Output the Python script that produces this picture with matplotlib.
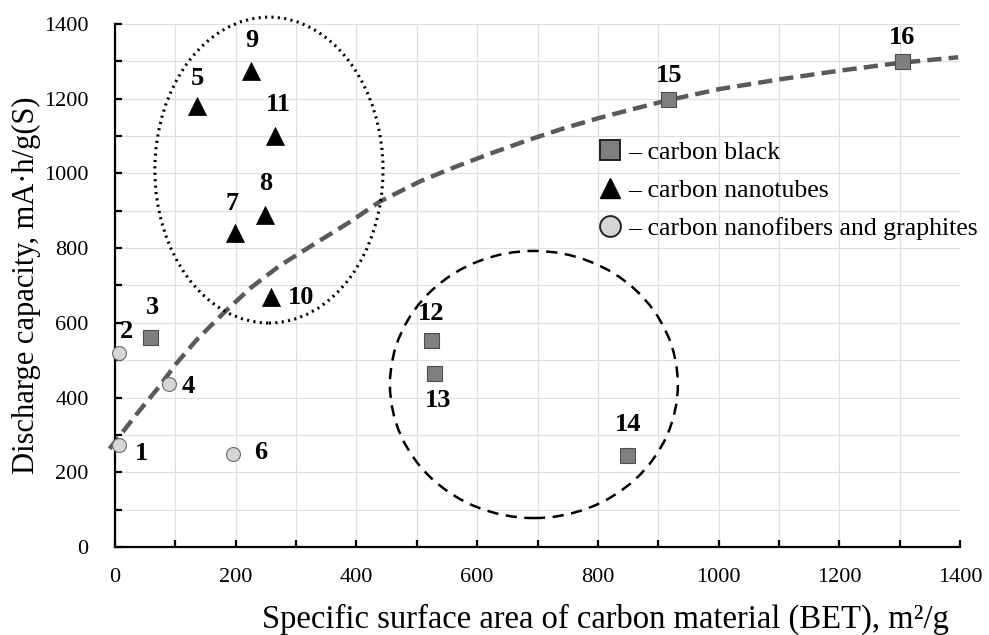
import matplotlib

matplotlib.use("Agg")
import matplotlib.pyplot as plt
from matplotlib.lines import Line2D
from matplotlib.patches import Ellipse

plt.rcParams["font.family"] = ["Liberation Serif", "DejaVu Serif"]

# BET surface area (m2/g) and discharge capacity (mA h / g S) per sample
black_id = [3, 12, 13, 14, 15, 16]
black_x = [58, 523, 529, 848, 916, 1304]
black_y = [563, 553, 466, 246, 1199, 1301]

tube_id = [5, 7, 8, 9, 10, 11]
tube_x = [136, 199, 249, 225, 259, 265]
tube_y = [1180, 841, 890, 1274, 668, 1101]

fiber_id = [1, 2, 4, 6]
fiber_x = [6, 7, 89, 196]
fiber_y = [273, 519, 437, 250]

trend_x = [-9, 36, 72, 101, 136, 181, 225, 272, 331, 389, 439, 507, 566, 625,
           684, 742, 801, 860, 916, 1002, 1102, 1200, 1300, 1397]
trend_y = [263, 356, 427, 490, 556, 628, 694, 752, 812, 870, 925, 980, 1019, 1055,
           1089, 1120, 1148, 1173, 1196, 1226, 1252, 1275, 1296, 1311]

# label offsets in pixels from each marker (dx, dy)
label_off = {
    1: (23, -8), 2: (7, 22), 3: (2, 29), 4: (20, -3), 5: (0, 28), 6: (27, 1),
    7: (-3, 29), 8: (0, 31), 9: (1, 31), 10: (30, 0), 11: (3, 31), 12: (0, 27),
    13: (4, -28), 14: (1, 31), 15: (1, 24), 16: (0, 23),
}

BLACK_FC, BLACK_EC = "#7f7f7f", "#4d4d4d"
FIBER_FC, FIBER_EC = "#d6d6d6", "#6b6b6b"

fig = plt.figure(figsize=(9.89, 6.35), dpi=100)
ax = fig.add_axes([0.1163, 0.1386, 0.8544, 0.8236])

ax.set_xlim(0, 1400)
ax.set_ylim(0, 1400)
ax.set_xticks(range(0, 1401, 200))
ax.set_yticks(range(0, 1401, 200))
ax.set_xticks(range(0, 1401, 100), minor=True)
ax.set_yticks(range(0, 1401, 100), minor=True)
ax.grid(True, which="both", color="#e0e0e0", lw=0.9, zorder=0)
ax.set_axisbelow(True)
for side in ("top", "right"):
    ax.spines[side].set_visible(False)
for side in ("left", "bottom"):
    ax.spines[side].set_linewidth(1.6)
ax.tick_params(which="both", direction="in", length=5, width=1.6, labelsize=16)
ax.tick_params(axis="x", which="major", pad=15)
ax.tick_params(axis="y", which="major", pad=19)

ax.plot(trend_x, trend_y, ls=(0, (3.2, 1.6)), lw=3.2, color="#5a5a5a", zorder=2,
        clip_on=False, dash_capstyle="butt", dash_joinstyle="round")

ax.add_patch(Ellipse((255, 1009), 378, 819, fill=False, ls=(0, (0.7, 1.4)), lw=2.2,
                     ec="black", clip_on=False, zorder=3))
ax.add_patch(Ellipse((694, 435), 477, 715, fill=False, ls=(0, (4.5, 3)), lw=1.8,
                     ec="black", clip_on=False, zorder=3))

ax.scatter(black_x, black_y, marker="s", s=10.8 ** 2, fc=BLACK_FC, ec=BLACK_EC, lw=0.8, zorder=4)
ax.scatter(tube_x, tube_y, marker="^", s=13 ** 2, fc="black", ec="black", lw=0.5, zorder=4)
ax.scatter(fiber_x, fiber_y, marker="o", s=10 ** 2, fc=FIBER_FC, ec=FIBER_EC, lw=0.8, zorder=4,
           clip_on=False)

for ids, xs, ys in ((black_id, black_x, black_y), (tube_id, tube_x, tube_y), (fiber_id, fiber_x, fiber_y)):
    for i, x, y in zip(ids, xs, ys):
        ax.annotate(str(i), (x, y), xytext=label_off[i], textcoords="offset pixels",
                    ha="center", va="center", fontsize=19, fontweight="bold", zorder=5)

handles = [
    Line2D([], [], ls="none", marker="s", ms=14, mfc=BLACK_FC, mec="#222222", mew=1.4),
    Line2D([], [], ls="none", marker="^", ms=15, mfc="black", mec="black"),
    Line2D([], [], ls="none", marker="o", ms=15, mfc=FIBER_FC, mec="#222222", mew=1.4),
]
labels = ["– carbon black", "– carbon nanotubes", "– carbon nanofibers and graphites"]
ax.legend(handles, labels, loc="upper left", bbox_to_anchor=(0.572, 0.777), frameon=False,
          fontsize=18.5, handlelength=0.9, handletextpad=0.25, labelspacing=0.6,
          borderaxespad=0, borderpad=0)

ax.set_xlabel("Specific surface area of carbon material (BET), m²/g", fontsize=23.5)
ax.xaxis.set_label_coords(0.58, -0.108)
ax.set_ylabel("Discharge capacity, mA·h/g(S)", fontsize=22, labelpad=2)

fig.savefig("out.png", dpi=100)
